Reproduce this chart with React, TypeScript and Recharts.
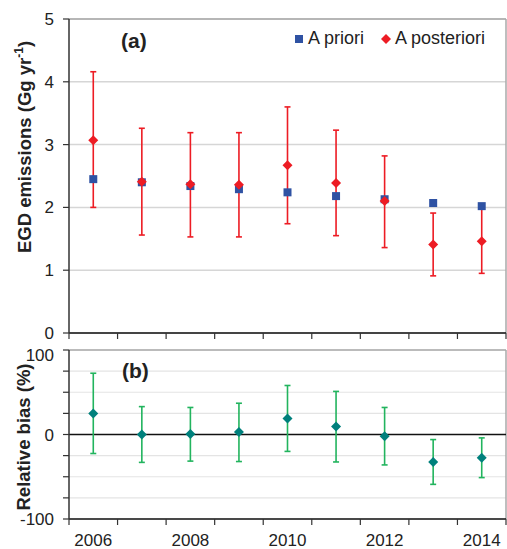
import React from "react";
import {
  ComposedChart,
  Scatter,
  ErrorBar,
  XAxis,
  YAxis,
  CartesianGrid,
  ReferenceLine,
} from "recharts";

const years = [2006, 2007, 2008, 2009, 2010, 2011, 2012, 2013, 2014];
const prior = [2.45, 2.4, 2.34, 2.29, 2.24, 2.18, 2.13, 2.07, 2.02];
const post = [3.07, 2.41, 2.37, 2.36, 2.67, 2.39, 2.1, 1.41, 1.46];
const postLow = [2.0, 1.56, 1.53, 1.53, 1.74, 1.55, 1.36, 0.91, 0.95];
const postHigh = [4.16, 3.26, 3.19, 3.19, 3.6, 3.23, 2.82, 1.91, 1.98];
const bias = [25, 0, 0.5, 3, 19, 9.5, -2, -32.5, -27.5];
const biasLow = [-22.5, -33, -31.5, -32, -20, -32.5, -36, -59, -51];
const biasHigh = [72.5, 33, 32, 37, 58, 51, 32, -6, -4];
const emissionTicks = [0, 1, 2, 3, 4, 5];
const biasTicks = [-100, -75, -50, -25, 0, 25, 50, 75, 100];
const biasLabels = [-100, 0, 100];
const yearLabels = [2006, 2008, 2010, 2012, 2014];

const RED = "#ed1c24";
const BLUE = "#2f52a3";
const TEAL = "#00807c";
const GREEN = "#22b45e";
const FONT = "'Liberation Sans', Arial, sans-serif";

const dataA = years.map((year, i) => ({
  year,
  prior: prior[i],
  post: post[i],
  postErr: [post[i] - postLow[i], postHigh[i] - post[i]],
}));

const dataB = years.map((year, i) => ({
  year,
  bias: bias[i],
  biasErr: [bias[i] - biasLow[i], biasHigh[i] - bias[i]],
}));

// category boundaries, like the excel category axis
const bounds = [...years.map((y) => y - 0.5), years[years.length - 1] + 0.5];
const xDomain = [bounds[0], bounds[bounds.length - 1]];

const tickStyle = { fill: "#222", fontSize: 17, fontFamily: FONT };

const Square = (props: any) => {
  const { cx, cy } = props;
  if (cx == null || cy == null) return null;
  return <rect x={cx - 4} y={cy - 4} width={8} height={8} fill={BLUE} />;
};

const makeDiamond = (color: string, r: number) => (props: any) => {
  const { cx, cy } = props;
  if (cx == null || cy == null) return null;
  return (
    <polygon
      points={`${cx},${cy - r} ${cx + r},${cy} ${cx},${cy + r} ${cx - r},${cy}`}
      fill={color}
    />
  );
};

const RedDiamond = makeDiamond(RED, 5);
const TealDiamond = makeDiamond(TEAL, 5);

const rotated = (cx: number, cy: number): React.CSSProperties => ({
  position: "absolute",
  left: cx,
  top: cy,
  transform: "translate(-50%, -50%) rotate(-90deg)",
  whiteSpace: "nowrap",
  fontWeight: "bold",
  fontSize: 18.5,
  color: "#222",
});

export default function App() {
  return (
    <div
      style={{
        position: "absolute",
        left: 0,
        top: 0,
        width: 507,
        height: 549,
        background: "#fff",
        fontFamily: FONT,
      }}
    >
      <ComposedChart
        width={507}
        height={345}
        data={dataA}
        margin={{ top: 19, right: 1, left: 0, bottom: 6 }}
      >
        <CartesianGrid
          vertical={false}
          stroke="#d6d6d6"
          strokeWidth={1.5}
        />
        <XAxis
          dataKey="year"
          type="number"
          domain={xDomain}
          ticks={bounds}
          tickFormatter={() => ""}
          height={6}
          tickSize={6}
          axisLine={{ stroke: "#111", strokeWidth: 1.5 }}
          tickLine={{ stroke: "#333", strokeWidth: 1.2 }}
          allowDataOverflow
        />
        <YAxis
          type="number"
          domain={[0, 5]}
          ticks={emissionTicks}
          width={69}
          tickSize={6}
          tickMargin={9}
          tick={tickStyle}
          axisLine={{ stroke: "#333", strokeWidth: 1.5 }}
          tickLine={{ stroke: "#333", strokeWidth: 1.2 }}
        />
        <ReferenceLine y={5} stroke="#a8a8a8" strokeWidth={1.5} />
        <ReferenceLine x={xDomain[1]} stroke="#a8a8a8" strokeWidth={1.5} />
        <Scatter
          dataKey="prior"
          shape={<Square />}
          isAnimationActive={false}
        />
        <Scatter dataKey="post" shape={<RedDiamond />} isAnimationActive={false}>
          <ErrorBar
            dataKey="postErr"
            direction="y"
            width={3}
            stroke={RED}
            strokeWidth={1.6}
          />
        </Scatter>
      </ComposedChart>

      <ComposedChart
        width={507}
        height={204}
        data={dataB}
        margin={{ top: 5, right: 1, left: 0, bottom: 0 }}
      >
        <CartesianGrid vertical={false} stroke="#e4e4e4" strokeWidth={1.2} />
        <XAxis
          dataKey="year"
          type="number"
          domain={xDomain}
          ticks={bounds}
          tickFormatter={() => ""}
          height={6}
          tickSize={6}
          axisLine={{ stroke: "#111", strokeWidth: 1.5 }}
          tickLine={{ stroke: "#333", strokeWidth: 1.2 }}
          allowDataOverflow
        />
        <XAxis
          xAxisId="lab"
          dataKey="year"
          type="number"
          domain={xDomain}
          ticks={yearLabels}
          height={24}
          tickSize={0}
          tickMargin={9}
          axisLine={false}
          tickLine={false}
          tick={tickStyle}
          allowDataOverflow
        />
        <YAxis
          type="number"
          domain={[-100, 100]}
          ticks={biasTicks}
          width={69}
          tickSize={6}
          tickMargin={9}
          tick={tickStyle}
          tickFormatter={(v: number) => (biasLabels.includes(v) ? String(v) : "")}
          axisLine={{ stroke: "#333", strokeWidth: 1.5 }}
          tickLine={{ stroke: "#333", strokeWidth: 1.2 }}
        />
        <ReferenceLine y={100} stroke="#a8a8a8" strokeWidth={1.5} />
        <ReferenceLine x={xDomain[1]} stroke="#a8a8a8" strokeWidth={1.5} />
        <ReferenceLine y={0} stroke="#111" strokeWidth={1.3} />
        <Scatter dataKey="bias" shape={<TealDiamond />} isAnimationActive={false}>
          <ErrorBar
            dataKey="biasErr"
            direction="y"
            width={3}
            stroke={GREEN}
            strokeWidth={1.6}
          />
        </Scatter>
      </ComposedChart>

      <div style={rotated(24, 147)}>
        EGD emissions (Gg yr<sup style={{ fontSize: 12 }}>-1</sup>)
      </div>
      <div style={rotated(24, 437)}>Relative bias (%)</div>

      <div
        style={{
          position: "absolute",
          left: 121,
          top: 29,
          fontWeight: "bold",
          fontSize: 21,
          color: "#222",
        }}
      >
        (a)
      </div>
      <div
        style={{
          position: "absolute",
          left: 122,
          top: 359,
          fontWeight: "bold",
          fontSize: 21,
          color: "#222",
        }}
      >
        (b)
      </div>

      <div
        style={{
          position: "absolute",
          left: 295,
          top: 28,
          display: "flex",
          alignItems: "center",
          fontSize: 18,
          color: "#222",
          whiteSpace: "nowrap",
        }}
      >
        <span
          style={{ width: 8, height: 8, background: BLUE, marginRight: 5 }}
        />
        <span>A priori</span>
        <svg width={12} height={12} style={{ marginLeft: 16, marginRight: 3 }}>
          <polygon points="6,1 11,6 6,11 1,6" fill={RED} />
        </svg>
        <span>A posteriori</span>
      </div>
    </div>
  );
}
